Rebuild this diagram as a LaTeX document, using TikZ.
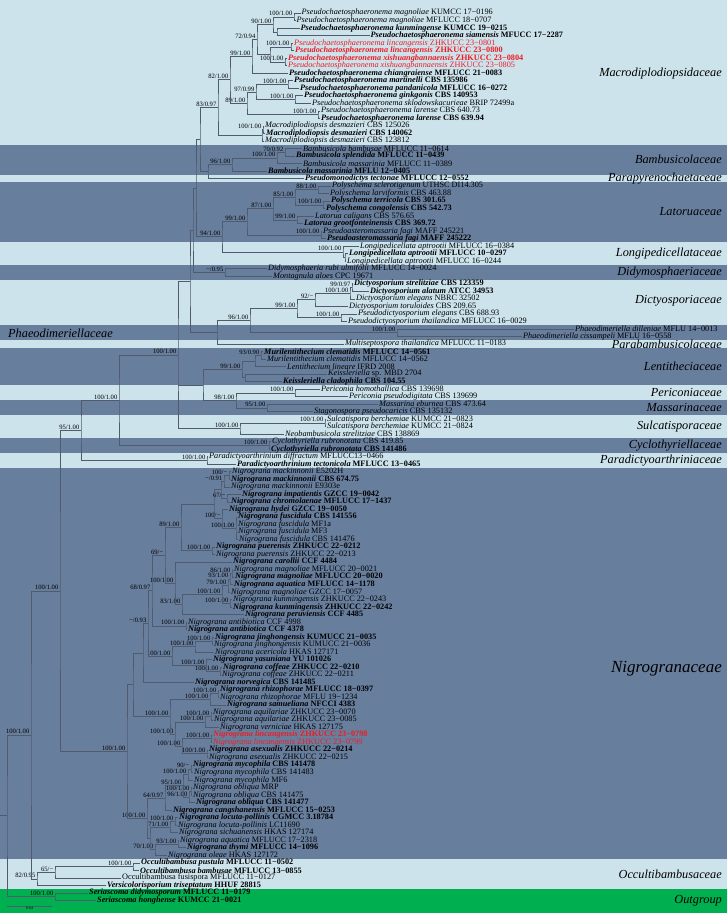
\documentclass[tikz,border=0pt]{standalone}
\usepackage{fontspec}
\setmainfont{Liberation Serif}
\usetikzlibrary{calc}
\definecolor{bandlite}{RGB}{205,227,236}
\definecolor{banddark}{RGB}{104,126,157}
\definecolor{bandgreen}{RGB}{0,176,80}
\definecolor{newred}{RGB}{237,28,36}
\definecolor{treeline}{RGB}{80,92,110}
\tikzset{
  branch/.style={draw=treeline,line width=0.5pt},
  taxon/.style={anchor=west,inner sep=0pt,xshift=1pt,font=\fontsize{8.25}{9}\selectfont},
  taxonb/.style={taxon,font=\fontsize{8.25}{9}\selectfont\bfseries},
  newtaxon/.style={taxon,text=newred},
  newtaxonb/.style={taxonb,text=newred},
  sup/.style={anchor=south east,inner sep=0pt,xshift=-1.5pt,yshift=0.6pt,font=\fontsize{6.6}{7}\selectfont},
  fam/.style={anchor=east,inner sep=0pt,font=\fontsize{12.3}{13}\selectfont\itshape}
}
\newcommand{\spn}[1]{\textit{#1}}
% leaf: style, name, tip x, row, text
\newcommand{\leaf}[5][taxon]{%
  \coordinate (#2) at (#3,{13+(#4-1)*7.52});
  \node[#1] (#2-t) at (#2) {#5};}
% clade: name, x, upper child, lower child, support
\newcommand{\clade}[5]{%
  \path (#3) -- (#4) coordinate[midway] (#1-m);
  \coordinate (#1) at (#1-m -| #2,0);
  \draw[branch] (#3) -| (#1) |- (#4);
  \if\relax\detokenize{#5}\relax\else\node[sup] (#1-s) at (#1) {#5};\fi}
% polytomy: name, x, first, last, middle children, support
\newcommand{\polyclade}[6]{%
  \path (#3) -- (#4) coordinate[midway] (#1-m);
  \coordinate (#1) at (#1-m -| #2,0);
  \draw[branch] (#3) -| (#1) |- (#4);
  \foreach \c in {#5}{\draw[branch] (#1 |- \c) -- (\c);}
  \if\relax\detokenize{#6}\relax\else\node[sup] (#1-s) at (#1) {#6};\fi}

\begin{document}
\begin{tikzpicture}[x=1pt,y=-1pt]
\useasboundingbox (0,0) rectangle (727,913);
% family bands
\foreach \a/\b/\c in {1/18/bandlite,19/22/banddark,23/23/bandlite,24/31/banddark,32/34/bandlite,
  35/36/banddark,37/42/bandlite,43/44/banddark,45/45/bandlite,46/50/banddark,51/52/bandlite,
  53/54/banddark,55/57/bandlite,58/59/banddark,60/61/bandlite,62/113/banddark,114/117/bandlite,118/119/bandgreen}{
  \pgfmathsetmacro\ytop{\a==1 ? 0 : 13+(\a-1.5)*7.52}
  \pgfmathsetmacro\ybot{\b==119 ? 913 : 13+(\b-0.5)*7.52}
  \fill[\c] (0,\ytop) rectangle (727,\ybot);
}

% taxa
\leaf{L1}{300.5}{1}{\spn{Pseudochaetosphaeronema magnoliae} KUMCC 17−0196}
\leaf{L2}{295.5}{2}{\spn{Pseudochaetosphaeronema magnoliae} MFLUCC 18−0707}
\leaf[taxonb]{L3}{299.5}{3}{\spn{Pseudochaetosphaeronema kunmingense} KUMCC 19−0215}
\leaf[taxonb]{L4}{369.5}{4}{\spn{Pseudochaetosphaeronema siamensis} MFUCC 17−2287}
\leaf[newtaxon]{L5}{293}{5}{\spn{Pseudochaetosphaeronema lincangensis} ZHKUCC 23−0801}
\leaf[newtaxonb]{L6}{294}{6}{\spn{Pseudochaetosphaeronema lincangensis} ZHKUCC 23−0800}
\leaf[newtaxonb]{L7}{287}{7}{\spn{Pseudochaetosphaeronema xishuangbannaensis} ZHKUCC 23−0804}
\leaf[newtaxon]{L8}{287}{8}{\spn{Pseudochaetosphaeronema xishuangbannaensis} ZHKUCC 23−0805}
\leaf[taxonb]{L9}{288}{9}{\spn{Pseudochaetosphaeronema chiangraiense} MFLUCC 21−0083}
\leaf[taxonb]{L10}{293}{10}{\spn{Pseudochaetosphaeronema martinelli} CBS 135986}
\leaf[taxonb]{L11}{299}{11}{\spn{Pseudochaetosphaeronema pandanicola} MFLUCC 16−0272}
\leaf[taxonb]{L12}{303}{12}{\spn{Pseudochaetosphaeronema ginkgonis} CBS 140953}
\leaf{L13}{311}{13}{\spn{Pseudochaetosphaeronema sklodowskacurieae} BRIP 72499a}
\leaf{L14}{320}{14}{\spn{Pseudochaetosphaeronema larense} CBS 640.73}
\leaf[taxonb]{L15}{320}{15}{\spn{Pseudochaetosphaeronema larense} CBS 639.94}
\leaf{L16}{264}{16}{\spn{Macrodiplodiopsis desmazieri} CBS 125026}
\leaf[taxonb]{L17}{265}{17}{\spn{Macrodiplodiopsis desmazieri} CBS 140062}
\leaf{L18}{264}{18}{\spn{Macrodiplodiopsis desmazieri} CBS 123812}
\leaf{L19}{302}{19}{\spn{Bambusicola bambusae} MFLUCC 11−0614}
\leaf[taxonb]{L20}{295}{20}{\spn{Bambusicola splendida} MFLUCC 11−0439}
\leaf{L21}{302}{21}{\spn{Bambusicola massarinia} MFLUCC 11−0389}
\leaf[taxonb]{L22}{267}{22}{\spn{Bambusicola massarinia} MFLU 12−0405}
\leaf[taxonb]{L23}{304}{23}{\spn{Pseudomonodictys tectonae} MFLUCC 12−0552}
\leaf{L24}{331}{24}{\spn{Polyschema sclerotigenum} UTHSC DI14.305}
\leaf{L25}{329}{25}{\spn{Polyschema larviformis} CBS 463.88}
\leaf[taxonb]{L26}{330}{26}{\spn{Polyschema terricola} CBS 301.65}
\leaf[taxonb]{L27}{325}{27}{\spn{Polyschema congolensis} CBS 542.73}
\leaf{L28}{314}{28}{\spn{Latorua caligans} CBS 576.65}
\leaf[taxonb]{L29}{303}{29}{\spn{Latorua grootfonteinensis} CBS 369.72}
\leaf{L30}{322}{30}{\spn{Pseudoasteromassaria fagi} MAFF 245221}
\leaf[taxonb]{L31}{326}{31}{\spn{Pseudoasteromassaria fagi} MAFF 245222}
\leaf{L32}{359}{32}{\spn{Longipedicellata aptrootii} MFLUCC 16−0384}
\leaf[taxonb]{L33}{348}{33}{\spn{Longipedicellata aptrootii} MFLUCC 10−0297}
\leaf{L34}{346}{34}{\spn{Longipedicellata aptrootii} MFLUCC 16−0244}
\leaf{L35}{267}{35}{\spn{Didymosphaeria rubi ulmifolii} MFLUCC 14−0024}
\leaf{L36}{272}{36}{\spn{Montagnula aloes} CPC 19671}
\leaf[taxonb]{L37}{353}{37}{\spn{Dictyosporium strelitziae} CBS 123359}
\leaf[taxonb]{L38}{369}{38}{\spn{Dictyosporium alatum} ATCC 34953}
\leaf{L39}{355}{39}{\spn{Dictyosporium elegans} NBRC 32502}
\leaf{L40}{348}{40}{\spn{Dictyosporium toruloides} CBS 209.65}
\leaf{L41}{357}{41}{\spn{Pseudodictyosporium elegans} CBS 688.93}
\leaf{L42}{347}{42}{\spn{Pseudodictyosporium thailandica} MFLUCC 16−0029}
\leaf{L43}{574}{43}{\spn{Phaeodimeriella dilleniae} MFLU 14−0013}
\leaf{L44}{522}{44}{\spn{Phaeodimeriella cissampeli} MFLU 16−0558}
\leaf{L45}{344}{45}{\spn{Multiseptospora thailandica} MFLUCC 11−0183}
\leaf[taxonb]{L46}{263}{46}{\spn{Murilentithecium clematidis} MFLUCC 14−0561}
\leaf{L47}{266}{47}{\spn{Murilentithecium clematidis} MFLUCC 14−0562}
\leaf{L48}{286}{48}{\spn{Lentithecium lineare} IFRD 2008}
\leaf{L49}{327}{49}{\spn{Keissleriella} sp. MBD 2704}
\leaf[taxonb]{L50}{282}{50}{\spn{Keissleriella cladophila} CBS 104.55}
\leaf{L51}{320}{51}{\spn{Periconia homothallica} CBS 139698}
\leaf{L52}{348}{52}{\spn{Periconia pseudodigitata} CBS 139699}
\leaf{L53}{378}{53}{\spn{Massarina eburnea} CBS 473.64}
\leaf{L54}{313}{54}{\spn{Stagonospora pseudocaricis} CBS 135132}
\leaf{L55}{326}{55}{\spn{Sulcatispora berchemiae} KUMCC 21−0823}
\leaf{L56}{326}{56}{\spn{Sulcatispora berchemiae} KUMCC 21−0824}
\leaf{L57}{284}{57}{\spn{Neobambusicola strelitziae} CBS 138869}
\leaf{L58}{271}{58}{\spn{Cyclothyriella rubronotata} CBS 419.85}
\leaf[taxonb]{L59}{270}{59}{\spn{Cyclothyriella rubronotata} CBS 141486}
\leaf{L60}{208}{60}{\spn{Paradictyoarthrinium diffractum} MFLUCC13−0466}
\leaf[taxonb]{L61}{236}{61}{\spn{Paradictyoarthrinium tectonicola} MFLUCC 13−0465}
\leaf{L62}{231}{62}{\spn{Nigrograna mackinnonii} E5202H}
\leaf[taxonb]{L63}{230}{63}{\spn{Nigrograna mackinnonii} CBS 674.75}
\leaf{L64}{230}{64}{\spn{Nigrograna mackinnonii} E9303e}
\leaf[taxonb]{L65}{241}{65}{\spn{Nigrograna impatientis} GZCC 19−0042}
\leaf[taxonb]{L66}{230}{66}{\spn{Nigrograna chromolaenae} MFLUCC 17−1437}
\leaf[taxonb]{L67}{228}{67}{\spn{Nigrograna hydei} GZCC 19−0050}
\leaf[taxonb]{L68}{237}{68}{\spn{Nigrograna fuscidula} CBS 141556}
\leaf{L69}{237}{69}{\spn{Nigrograna fuscidula} MF1a}
\leaf{L70}{237}{70}{\spn{Nigrograna fuscidula} MF3}
\leaf{L71}{238}{71}{\spn{Nigrograna fuscidula} CBS 141476}
\leaf[taxonb]{L72}{215}{72}{\spn{Nigrograna puerensis} ZHKUCC 22−0212}
\leaf{L73}{215}{73}{\spn{Nigrograna puerensis} ZHKUCC 22−0213}
\leaf[taxonb]{L74}{232}{74}{\spn{Nigrograna carollii} CCF 4484}
\leaf{L75}{233}{75}{\spn{Nigrograna magnoliae} MFLUCC 20−0021}
\leaf[taxonb]{L76}{234}{76}{\spn{Nigrograna magnoliae} MFLUCC 20−0020}
\leaf[taxonb]{L77}{233}{77}{\spn{Nigrograna aquatica} MFLUCC 14−1178}
\leaf{L78}{230}{78}{\spn{Nigrograna magnoliae} GZCC 17−0057}
\leaf{L79}{232}{79}{\spn{Nigrograna kunmingensis} ZHKUCC 22−0243}
\leaf[taxonb]{L80}{232}{80}{\spn{Nigrograna kunmingensis} ZHKUCC 22−0242}
\leaf[taxonb]{L81}{244}{81}{\spn{Nigrograna peruviensis} CCF 4485}
\leaf{L82}{187}{82}{\spn{Nigrograna antibiotica} CCF 4998}
\leaf[taxonb]{L83}{187}{83}{\spn{Nigrograna antibiotica} CCF 4378}
\leaf[taxonb]{L84}{214}{84}{\spn{Nigrograna jinghongensis} KUMUCC 21−0035}
\leaf{L85}{213}{85}{\spn{Nigrograna jinghongensis} KUMUCC 21−0036}
\leaf{L86}{214}{86}{\spn{Nigrograna acericola} HKAS 127171}
\leaf[taxonb]{L87}{212}{87}{\spn{Nigrograna yasuniana} YU 101026}
\leaf[taxonb]{L88}{222}{88}{\spn{Nigrograna coffeae} ZHKUCC 22−0210}
\leaf{L89}{221}{89}{\spn{Nigrograna coffeae} ZHKUCC 22−0211}
\leaf[taxonb]{L90}{194}{90}{\spn{Nigrograna norvegica} CBS 141485}
\leaf[taxonb]{L91}{219}{91}{\spn{Nigrograna rhizophorae} MFLUCC 18−0397}
\leaf{L92}{219}{92}{\spn{Nigrograna rhizophorae} MFLU 19−1234}
\leaf[taxonb]{L93}{226}{93}{\spn{Nigrograna samueliana} NFCCI 4383}
\leaf{L94}{212}{94}{\spn{Nigrograna aquilariae} ZHKUCC 23−0070}
\leaf{L95}{213}{95}{\spn{Nigrograna aquilariae} ZHKUCC 23−0085}
\leaf{L96}{219}{96}{\spn{Nigrograna verniciae} HKAS 127175}
\leaf[newtaxonb]{L97}{212}{97}{\spn{Nigrograna lincangensis} ZHKUCC 23−0798}
\leaf[newtaxon]{L98}{212}{98}{\spn{Nigrograna lincangensis} ZHKUCC 23−0799}
\leaf[taxonb]{L99}{208}{99}{\spn{Nigrograna asexualis} ZHKUCC 22−0214}
\leaf{L100}{208}{100}{\spn{Nigrograna asexualis} ZHKUCC 22−0215}
\leaf[taxonb]{L101}{192}{101}{\spn{Nigrograna mycophila} CBS 141478}
\leaf{L102}{193}{102}{\spn{Nigrograna mycophila} CBS 141483}
\leaf{L103}{193}{103}{\spn{Nigrograna mycophila} MF6}
\leaf{L104}{192}{104}{\spn{Nigrograna obliqua} MRP}
\leaf{L105}{192}{105}{\spn{Nigrograna obliqua} CBS 141475}
\leaf[taxonb]{L106}{195}{106}{\spn{Nigrograna obliqua} CBS 141477}
\leaf[taxonb]{L107}{172}{107}{\spn{Nigrograna cangshanensis} MFLUCC 15−0253}
\leaf[taxonb]{L108}{178}{108}{\spn{Nigrograna locuta-pollinis} CGMCC 3.18784}
\leaf{L109}{177}{109}{\spn{Nigrograna locuta-pollinis} LC11690}
\leaf{L110}{178}{110}{\spn{Nigrograna sichuanensis} HKAS 127174}
\leaf{L111}{179}{111}{\spn{Nigrograna aquatica} MFLUCC 17−2318}
\leaf[taxonb]{L112}{186}{112}{\spn{Nigrograna thymi} MFLUCC 14−1096}
\leaf{L113}{167}{113}{\spn{Nigrograna oleae} HKAS 127172}
\leaf[taxonb]{L114}{140}{114}{\spn{Occultibambusa pustula} MFLUCC 11−0502}
\leaf[taxonb]{L115}{139}{115}{\spn{Occultibambusa bambusae} MFLUCC 13−0855}
\leaf{L116}{121}{116}{Occultibambusa fusispora MFLUCC 11−0127}
\leaf[taxonb]{L117}{106}{117}{\spn{Versicolorisporium triseptatum} HHUF 28815}
\leaf[taxonb]{L118}{88}{118}{\spn{Seriascoma didymosporum} MFLUCC 11−0179}
\leaf[taxonb]{L119}{96}{119}{\spn{Seriascoma honghense} KUMCC 21−0021}

% Macrodiplodiopsidaceae
\clade{m1}{294}{L1}{L2}{100/1.00}
\clade{m2}{277}{L3}{L4}{}
\clade{m3}{273}{m1}{m2}{90/1.00}
\clade{m4}{291}{L5}{L6}{100/1.00}
\clade{m5}{285}{L7}{L8}{100/1.00}
\clade{m6}{270}{m4}{m5}{}
\clade{m7}{257}{m3}{m6}{72/0.94}
\clade{m8}{252}{m7}{L9}{99/1.00}
\clade{m9}{288}{L10}{L11}{100/1.00}
\clade{m10}{295}{L12}{L13}{100/1.00}
\clade{m11}{318}{L14}{L15}{100/1.00}
\clade{m12}{256}{m9}{m10}{97/0.99}
\clade{m13}{247}{m12}{m11}{89/1.00}
\clade{m14}{230}{m8}{m13}{82/1.00}
\clade{m15}{263}{L16}{L17}{100/1.00}
\clade{m16}{262}{m15}{L18}{}
\clade{m17}{218}{m14}{m16}{83/0.97}
% Bambusicolaceae to Sulcatisporaceae
\clade{b1}{285}{L19}{L20}{70/0.92}
\clade{b2}{277}{b1}{L21}{100/1.00}
\clade{b3}{232}{b2}{L22}{96/1.00}
\clade{b4}{208}{b3}{L23}{}
\clade{l1}{318}{L24}{L25}{88/1.00}
\clade{l2}{323}{L26}{L27}{100/1.00}
\clade{l3}{295}{l1}{l2}{85/1.00}
\clade{l4}{297}{L28}{L29}{99/1.00}
\clade{l5}{273}{l3}{l4}{87/1.00}
\clade{l6}{321}{L30}{L31}{100/1.00}
\clade{l7}{247}{l5}{l6}{99/1.00}
\clade{g1}{345}{L33}{L34}{}
\clade{g2}{343}{L32}{g1}{100/1.00}
\clade{l8}{222}{l7}{g2}{94/1.00}
\clade{d1}{225}{L35}{L36}{−/0.95}
\clade{c1}{352}{L37}{L38}{99/0.97}
\clade{c2}{350}{c1}{L39}{100/1.00}
\clade{c3}{315}{c2}{L40}{92/−}
\clade{c4}{341}{L41}{L42}{100/1.00}
\clade{c5}{297}{c3}{c4}{99/1.00}
\clade{p1}{397}{L43}{L44}{100/1.00}
\clade{h1}{250}{c5}{p1}{96/1.00}
\clade{h2}{217}{h1}{L45}{}
\clade{t1}{261}{L46}{L47}{93/0.90}
\clade{t2}{255}{t1}{L48}{}
\clade{t4}{245}{L49}{L50}{}
\clade{t3}{242}{t2}{t4}{99/1.00}
\clade{k1}{295}{L51}{L52}{100/1.00}
\clade{s1}{267}{L53}{L54}{95/1.00}
\clade{k2}{236}{k1}{s1}{98/1.00}
\clade{t5}{203}{t3}{k2}{}
\clade{u1}{325}{L55}{L56}{100/1.00}
\clade{u2}{240}{u1}{L57}{100/1.00}
\clade{bb1}{200}{m17}{b4}{}
\clade{bb2}{196}{bb1}{l8}{}
\clade{bb3}{193}{bb2}{d1}{}
\clade{bb4}{190}{bb3}{h2}{}
\polyclade{bb5}{178}{bb4}{u2}{t5}{100/1.00}
\clade{cyc}{269}{L58}{L59}{100/1.00}
\clade{bb6}{119}{bb5}{cyc}{100/1.00}
\clade{pd}{207}{L60}{L61}{100/1.00}
\clade{bb7}{81}{bb6}{pd}{95/1.00}
% Nigrogranaceae
\clade{na}{229}{L62}{L63}{100/−}
\clade{nb}{224}{na}{L64}{−/0.91}
\clade{nc1}{227}{L65}{L66}{67/−}
\clade{nd}{221}{nb}{nc1}{}
\polyclade{nf}{236}{L68}{L71}{L69,L70}{100/1.00}
\clade{ne}{222}{L67}{nf}{100/−}
\clade{ng}{214}{nd}{ne}{}
\clade{nh}{212}{L72}{L73}{100/1.00}
\clade{ni}{181}{ng}{nh}{89/1.00}
\clade{q1}{232}{L75}{L76}{86/1.00}
\clade{q2}{230}{q1}{L77}{93/1.00}
\clade{q3}{228}{q2}{L78}{79/1.00}
\clade{q4}{230}{L79}{L80}{100/1.00}
\clade{q5}{222}{q3}{q4}{100/1.00}
\clade{q6}{182}{q5}{L81}{83/1.00}
\clade{q7}{175}{L74}{q6}{100/1.00}
\clade{q8}{165}{ni}{q7}{69/−}
\clade{q9}{186}{L82}{L83}{100/1.00}
\clade{q10}{152}{q8}{q9}{68/0.97}
\clade{r1}{212}{L84}{L85}{100/1.00}
\clade{r2}{195}{r1}{L86}{100/1.00}
\clade{r4}{220}{L88}{L89}{100/1.00}
\clade{r3}{206}{L87}{r4}{100/1.00}
\clade{r5}{172}{r2}{r3}{100/1.00}
\clade{na2}{148}{q10}{r5}{−/0.93}
\clade{nb2}{143}{na2}{L90}{}
\clade{r6}{218}{L91}{L92}{100/1.00}
\clade{r7}{210}{r6}{L93}{100/1.00}
\clade{r8}{211}{L94}{L95}{100/1.00}
\clade{r9}{205}{r8}{L96}{100/1.00}
\clade{r10}{211}{L97}{L98}{100/1.00}
\clade{r11}{207}{L99}{L100}{100/1.00}
\clade{r12}{182}{r10}{r11}{100/1.00}
\clade{r13}{175}{r9}{r12}{100/1.00}
\clade{r14}{170}{r7}{r13}{100/1.00}
\clade{nc2}{133}{nb2}{r14}{}
\clade{y1}{191}{L101}{L102}{90/−}
\clade{y2}{188}{y1}{L103}{100/1.00}
\clade{y5}{191}{L104}{L105}{100/1.00}
\clade{y6}{189}{y5}{L106}{96/1.00}
\clade{y3}{183}{y2}{y6}{95/1.00}
\clade{y4}{165}{y3}{L107}{64/0.97}
\clade{z1}{175}{L108}{L109}{100/1.00}
\clade{z2}{170}{z1}{L110}{71/1.00}
\clade{z3}{178}{L111}{L112}{93/1.00}
\clade{z4}{155}{z3}{L113}{70/1.00}
\clade{z5}{150}{z2}{z4}{}
\clade{nbot}{147}{y4}{z5}{100/1.00}
\clade{nroot}{127}{nc2}{nbot}{100/1.00}
% backbone and outgroup
\clade{bb8}{60}{bb7}{nroot}{100/1.00}
\clade{oc1}{133}{L114}{L115}{100/1.00}
\clade{oc2}{55}{oc1}{L116}{65/−}
\clade{oc3}{37}{oc2}{L117}{82/0.95}
\clade{bb9}{31}{bb8}{oc3}{100/1.00}
\clade{og}{55}{L118}{L119}{100/1.00}
\clade{root}{7}{bb9}{og}{}
\coordinate (stub) at (root -| 0,0);
\draw[branch] (stub) -- (root);

% scale bar
\coordinate (sb0) at (7,906);
\coordinate (sb1) at (52,906);
\draw[branch] (sb0) -- (sb1) node[midway,below=0.6pt,inner sep=0pt,font=\fontsize{4}{4}\selectfont] (sb-t) {0.04};

% family names
\node[fam] (f1) at (722,74) {Macrodiplodiopsidaceae};
\node[fam] (f2) at (722,159.6) {Bambusicolaceae};
\node[fam] (f3) at (722,178.4) {Parapyrenochaetaceae};
\node[fam] (f4) at (722,212) {Latoruaceae};
\node[fam] (f5) at (722,253.6) {Longipedicellataceae};
\node[fam] (f6) at (722,272.4) {Didymosphaeriaceae};
\node[fam] (f7) at (722,301) {Dictyosporiaceae};
\node[fam,anchor=west] (f8) at (8,333) {Phaeodimeriellaceae};
\node[fam] (f9) at (722,343.9) {Parabambusicolaceae};
\node[fam] (f10) at (722,366.4) {Lentitheciaceae};
\node[fam] (f11) at (722,392.7) {Periconiaceae};
\node[fam] (f12) at (722,407.8) {Massarinaceae};
\node[fam] (f13) at (722,426.6) {Sulcatisporaceae};
\node[fam] (f14) at (722,445.4) {Cyclothyriellaceae};
\node[fam] (f15) at (722,460.4) {Paradictyoarthriniaceae};
\node[fam,font=\fontsize{17}{18}\selectfont\itshape] (f16) at (722,669) {Nigrogranaceae};
\node[fam] (f17) at (722,874) {Occultibambusaceae};
\node[fam] (f18) at (722,901) {Outgroup};
\end{tikzpicture}
\end{document}
